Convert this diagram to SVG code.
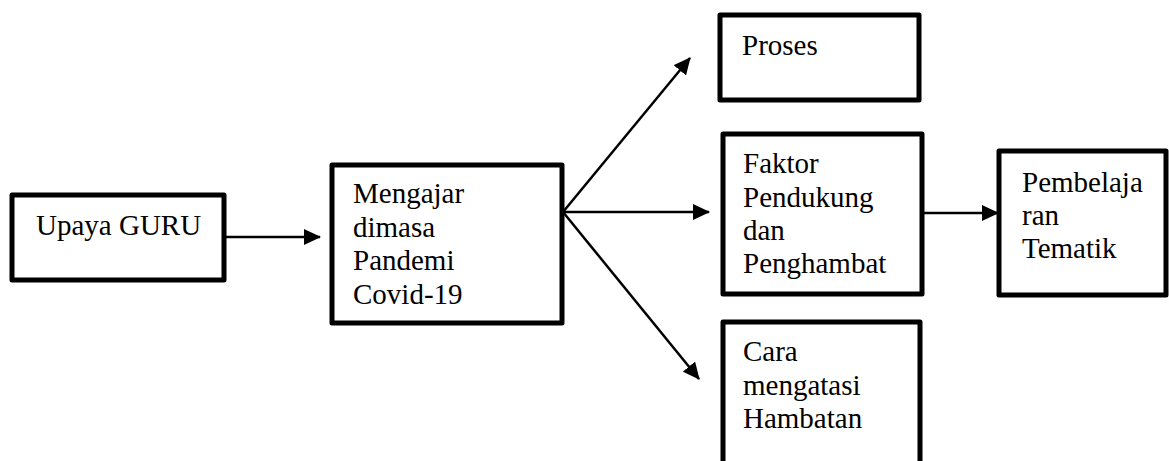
<svg xmlns="http://www.w3.org/2000/svg" width="1169" height="461" viewBox="0 0 1169 461">
<style>
.box{fill:#fff;stroke:#000;stroke-width:5;stroke-linejoin:round}
.t{font-family:"Liberation Serif","Times New Roman",serif;font-size:29px;fill:#000}
.c{stroke:#000;stroke-width:2.5;fill:none}
</style>
<defs>
<marker id="ah" markerWidth="17" markerHeight="16" refX="16" refY="8" orient="auto" markerUnits="userSpaceOnUse">
<path d="M0,0 L17,8 L0,16 Z" fill="#000"/>
</marker>
</defs>
<g id="connectors">
<line class="c" x1="224" y1="237" x2="320" y2="237" marker-end="url(#ah)"/>
<line class="c" x1="563" y1="212" x2="690" y2="58" marker-end="url(#ah)"/>
<line class="c" x1="563" y1="212" x2="709" y2="212" marker-end="url(#ah)"/>
<line class="c" x1="563" y1="212" x2="699" y2="379" marker-end="url(#ah)"/>
<line class="c" x1="922" y1="213" x2="998" y2="213" marker-end="url(#ah)"/>
</g>
<g id="upaya">
<rect class="box" x="12" y="195" width="212" height="85"/>
<text class="t" x="36" y="235">Upaya GURU</text>
</g>
<g id="mengajar">
<rect class="box" x="332" y="165" width="230" height="158"/>
<text class="t" x="353" y="203">Mengajar</text>
<text class="t" x="353" y="237">dimasa</text>
<text class="t" x="353" y="270">Pandemi</text>
<text class="t" x="353" y="304">Covid-19</text>
</g>
<g id="proses">
<rect class="box" x="720" y="15" width="199" height="85"/>
<text class="t" x="742" y="55">Proses</text>
</g>
<g id="faktor">
<rect class="box" x="723" y="134" width="199" height="160"/>
<text class="t" x="743" y="173">Faktor</text>
<text class="t" x="743" y="207">Pendukung</text>
<text class="t" x="743" y="240">dan</text>
<text class="t" x="743" y="273">Penghambat</text>
</g>
<g id="pembelajaran">
<rect class="box" x="999" y="151" width="167" height="144"/>
<text class="t" x="1022" y="192">Pembelaja</text>
<text class="t" x="1022" y="225">ran</text>
<text class="t" x="1022" y="258">Tematik</text>
</g>
<g id="cara">
<rect class="box" x="723" y="322" width="197" height="160"/>
<text class="t" x="743" y="361">Cara</text>
<text class="t" x="743" y="395">mengatasi</text>
<text class="t" x="743" y="428">Hambatan</text>
</g>
</svg>
